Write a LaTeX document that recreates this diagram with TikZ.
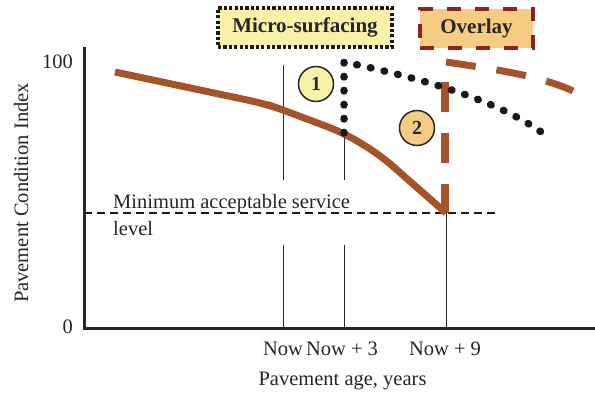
\documentclass[tikz,border=0pt]{standalone}
\usepackage{fontspec}
\setmainfont{Liberation Serif}
\usetikzlibrary{positioning}
\definecolor{rust}{RGB}{165,83,42}
\definecolor{paleyel}{RGB}{249,241,170}
\definecolor{paleorg}{RGB}{246,204,130}
\definecolor{wine}{RGB}{140,35,35}
\tikzset{
    treat/.style = {rectangle,font=\fontsize{21}{24}\bfseries,text=black!85,inner sep=0pt,minimum height=39pt},
    phase/.style = {circle,draw=black!85,line width=1.5pt,font=\fontsize{20}{24}\bfseries,text=black!85,minimum size=35pt,inner sep=0pt},
    axis/.style = {line width=3pt,black!85},
    guide/.style = {line width=0.8pt,black!85},
    wear/.style = {rust,line width=7pt,line join=round,rounded corners=16pt},
    redo/.style = {rust,line width=8pt,dash pattern=on 30pt off 21pt},
    dots/.style = {black!90,line width=7.5pt,line cap=round,dash pattern=on 0.6pt off 13.4pt},
    lbl/.style = {inner sep=0pt,text=black!85}
}
\begin{document}
\begin{tikzpicture}[x=1pt,y=-1pt,font=\fontsize{20.5}{27}\selectfont]
    \useasboundingbox (0,0) rectangle (595,396);

    \node[treat,fill=paleyel,draw=black!90,line width=3.5pt,dash pattern=on 3.2pt off 2.2pt,minimum width=174pt] (micro) at (305,27.5) {Micro-surfacing};
    \node[treat,fill=paleorg,draw=wine,line width=4pt,dash pattern=on 14pt off 14pt,minimum width=113pt] (over) at (476.5,28.5) {Overlay};

    \coordinate (ytop)  at (84,47);
    \coordinate (o)     at (84,328);
    \coordinate (xend)  at (598,328);
    \coordinate (start) at (115,72);
    \coordinate (bend)  at (266,104);
    \coordinate (now)   at (283,110);
    \coordinate (n3)    at (344,133);
    \coordinate (mid)   at (380,155);
    \coordinate (n9)    at (446,213);
    \coordinate (mtop)  at (344,62);
    \coordinate (mend)  at (548,137);
    \coordinate (otop)  at (445,82);
    \coordinate (obot)  at (445,213);
    \coordinate (ostart) at (446,62);
    \coordinate (oend)  at (573,91);
    \coordinate (minl)  at (84,213);
    \coordinate (minr)  at (499,213);

    \node[lbl,anchor=base east]  (hundred) at (73,69)  {100};
    \node[lbl,anchor=base east]  (zero)    at (73,333) {0};
    \node[lbl,anchor=base,rotate=90] (ylab) at (28,193) {Pavement Condition Index};
    \node[lbl,anchor=base]       (tnow)  at (283,355) {Now};
    \node[lbl,anchor=base]       (tn3)   at (342,355) {Now + 3};
    \node[lbl,anchor=base]       (tn9)   at (445,355) {Now + 9};
    \node[lbl,anchor=base]       (xlab)  at (342.5,385) {Pavement age, years};
    \node[lbl,anchor=base west,align=left] (minlev) at (113,235) {Minimum acceptable service\\level};

    \draw[guide] (283,65) -- (283,180) (283,245) -- (283,328);
    \draw[guide] (n3) -- (344,180) (344,245) -- (344,328);
    \draw[guide] (n9) -- (446,328);
    \draw[line width=2pt,black!90,dash pattern=on 8pt off 5pt] (minl) -- (minr);

    \draw[axis] (ytop) -- (o) -- (xend);

    \draw[wear] (start) -- (bend) -- (now) -- (n3) -- (mid) -- (n9);
    \draw[redo] (otop) -- (obot);
    \draw[redo,line width=7pt] (ostart) .. controls (500,70) and (540,76) .. (oend);
    \draw[dots] (n3) -- (mtop) .. controls (420,78) and (500,100) .. (mend);

    \node[phase,fill=paleyel] (one) at (316,84)  {1};
    \node[phase,fill=paleorg] (two) at (417,128) {2};
\end{tikzpicture}
\end{document}
